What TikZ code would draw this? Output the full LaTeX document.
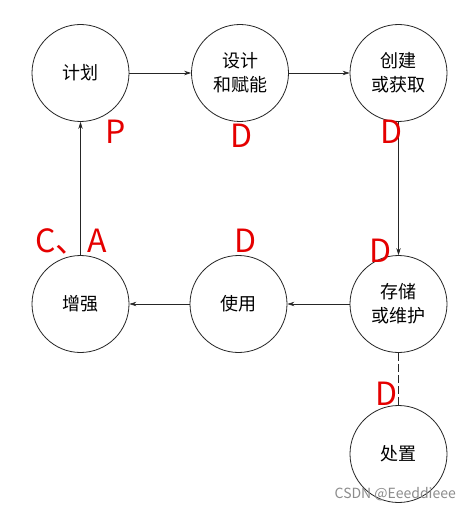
\documentclass[tikz,border=0pt]{standalone}
\usepackage{fontspec}
\setmainfont{Noto Sans CJK SC}
\newfontfamily\cjk{Noto Sans CJK SC}
\usetikzlibrary{arrows.meta}
\begin{document}
\begin{tikzpicture}[x=1pt,y=-1pt,
  stage/.style={circle,draw=black!85,line width=0.8pt,minimum size=97pt,inner sep=0pt,
    align=center,font=\cjk\fontsize{18}{24}\selectfont},
  flow/.style={draw=black!85,line width=0.7pt,-{Stealth[length=7pt,width=4.5pt]}},
  redlabel/.style={text=red!90!black,anchor=base west,inner sep=0pt,font=\cjk\fontsize{32}{32}\selectfont}]
\useasboundingbox (0,0) rectangle (471,508);
\fill[white] (0,0) rectangle (471,508);
\node[stage] (plan) at (80.5,73) {计划};
\node[stage] (design) at (240,73) {设计\\和赋能};
\node[stage] (create) at (398.5,73) {创建\\或获取};
\node[stage] (enhance) at (80.5,304) {增强};
\node[stage] (use) at (238.5,304) {使用};
\node[stage] (store) at (398.5,304) {存储\\或维护};
\node[stage] (dispose) at (398.5,454) {处置};
\draw[flow] (plan) -- (design);
\draw[flow] (design) -- (create);
\draw[flow] (create) -- (store);
\draw[flow] (store) -- (use);
\draw[flow] (use) -- (enhance);
\draw[flow] (enhance) -- (plan);
\draw[draw=black!85,line width=0.7pt,dash pattern=on 8pt off 3pt] (store) -- (dispose);
\node[redlabel] (lp) at (105,143) {P};
\node[redlabel] (ld1) at (230,147) {D};
\node[redlabel] (ld2) at (380,143) {D};
\node[redlabel] (lca) at (35,252) {C、A};
\node[redlabel] (ld3) at (234,252) {D};
\node[redlabel] (ld4) at (369,262) {D};
\node[redlabel] (ld5) at (375,405) {D};
\node[anchor=base east,inner sep=0pt,text=black!45,font=\cjk\fontsize{14}{14}\selectfont] (wm) at (456,498) {CSDN @Eeeddieee};
\end{tikzpicture}
\end{document}
